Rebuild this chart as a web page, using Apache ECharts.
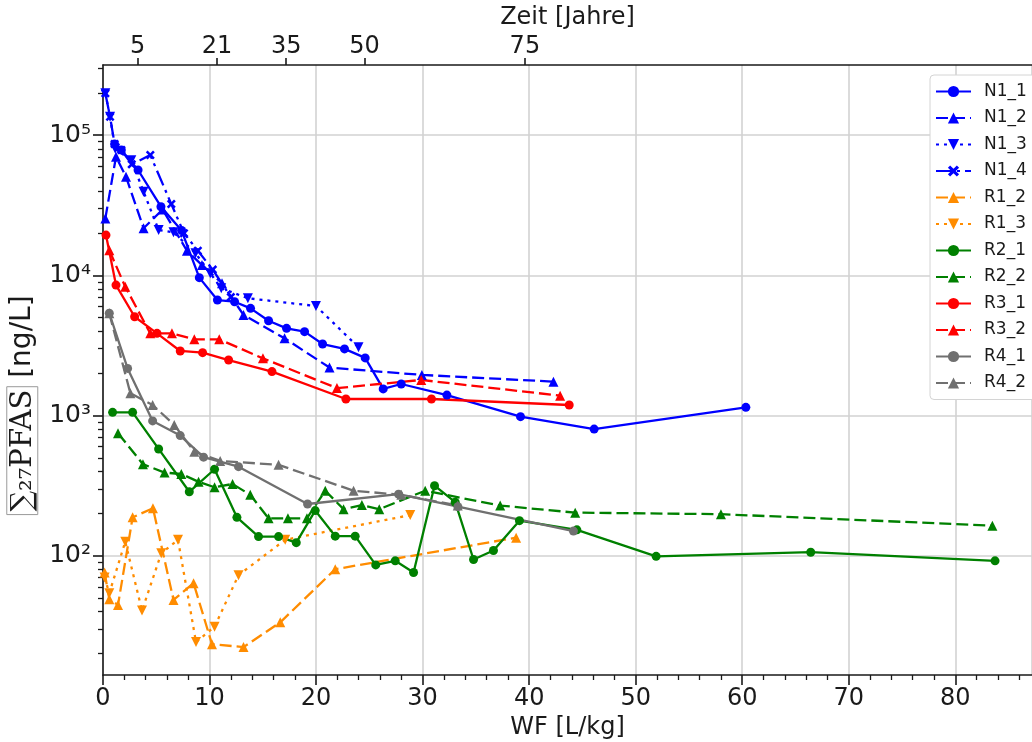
<!DOCTYPE html>
<html>
<head>
<meta charset="utf-8">
<script src="https://cdn.jsdelivr.net/npm/echarts@6/dist/echarts.min.js"></script>
<style>
  html, body { margin: 0; padding: 0; background: #fff; }
  #chart { width: 1032px; height: 742px; }
</style>
</head>
<body>
<div id="chart"></div>
<script>
// Leaching columns: water/solid ratio WF [L/kg] and summed PFAS concentration [ng/L]
const n1_1_wf   = [1.09, 1.72, 3.29, 5.44, 7.38, 9.04, 10.74, 12.35, 13.85, 15.54, 17.23, 18.92, 20.61, 22.67, 24.61, 26.30, 27.99, 32.28, 39.19, 46.10, 60.34];
const n1_1_pfas = [86500, 78400, 56500, 30900, 20900, 9640, 6670, 6490, 5820, 4750, 4190, 3970, 3240, 2990, 2580, 1550, 1680, 1400, 982, 801, 1145];

const n1_2_wf   = [0.22, 1.22, 2.16, 3.81, 5.6, 7.88, 9.29, 11.17, 13.19, 17.04, 21.26, 29.93, 42.28];
const n1_2_pfas = [25500, 70300, 50600, 21700, 29500, 15000, 11860, 8790, 5220, 3560, 2200, 1950, 1746];

const n1_3_wf   = [0.22, 0.66, 1.15, 2.66, 3.81, 5.22, 6.62, 8.68, 10.07, 11.1, 13.6, 19.99, 23.98];
const n1_3_pfas = [199000, 135500, 80000, 66400, 39500, 21100, 20300, 14400, 10360, 8090, 6870, 6050, 3070];

const n1_4_wf   = [0.22, 0.66, 1.09, 1.72, 2.7, 4.44, 6.41, 7.6, 8.9, 10.3, 12.0];
const n1_4_pfas = [199000, 135500, 86500, 78400, 62000, 72200, 32300, 20000, 15000, 11000, 7000];

const r1_2_wf   = [0.15, 0.59, 1.41, 2.78, 4.69, 6.62, 8.5, 10.23, 13.19, 16.64, 21.8, 38.78];
const r1_2_pfas = [76, 49, 44.6, 188, 218, 48.4, 63.7, 23.4, 22.3, 33.5, 80.2, 134.6];

const r1_3_wf   = [0.15, 0.59, 2.09, 3.66, 5.47, 7.04, 8.73, 10.47, 12.72, 17.1, 28.84];
const r1_3_pfas = [70, 54, 126, 40.6, 104, 130, 24.2, 31.2, 72.7, 130, 195];

const r2_1_wf   = [0.9, 2.78, 5.22, 8.1, 10.47, 12.57, 14.6, 16.48, 18.14, 19.92, 21.8, 23.67, 25.6, 27.43, 29.15, 31.12, 33.06, 34.78, 36.65, 39.09, 44.48, 51.92, 66.43, 83.73];
const r2_1_pfas = [1055, 1055, 578, 286, 414, 188, 137, 137, 124, 210, 138, 138, 86, 92, 76, 316, 241, 94, 109, 178, 153, 99, 106, 92];

const r2_2_wf   = [1.41, 3.75, 5.78, 7.35, 8.97, 10.47, 12.16, 13.82, 15.54, 17.36, 19.14, 20.86, 22.58, 24.3, 25.93, 30.24, 37.28, 44.32, 58.0, 83.48];
const r2_2_pfas = [748, 450, 392, 383, 337, 308, 325, 272, 185, 185, 185, 291, 215, 230, 215, 291, 228, 203, 198, 164];

const r3_1_wf   = [0.28, 1.22, 2.97, 5.07, 7.25, 9.35, 11.79, 15.86, 22.8, 30.83, 43.76];
const r3_1_pfas = [19400, 8530, 5070, 3860, 2890, 2810, 2490, 2060, 1313, 1313, 1190];

const r3_2_wf   = [0.59, 2.09, 4.44, 6.47, 8.57, 10.91, 15.01, 21.96, 29.87, 42.91];
const r3_2_pfas = [15100, 8300, 3860, 3860, 3500, 3500, 2560, 1570, 1795, 1387];

const r4_1_wf   = [0.59, 2.31, 4.66, 7.25, 9.44, 12.72, 19.2, 27.74, 33.31, 44.16];
const r4_1_pfas = [5370, 2170, 916, 720, 505, 432, 234, 275, 224, 150];

const r4_2_wf   = [0.59, 2.57, 4.66, 6.69, 8.57, 11.0, 16.48, 23.52, 28.0, 33.3];
const r4_2_pfas = [5370, 1443, 1190, 857, 552, 475, 445, 291, 272, 228];

// Secondary (top) axis: elapsed time in years at given WF positions
const yearTickWF     = [3.25, 10.7, 17.2, 24.55, 39.6];
const yearTickLabels = ['5', '21', '35', '50', '75'];

// Axis ranges and tick values
const wfMin = 0, wfMax = 87.2, wfStep = 10;
const pfasMin = 14.1, pfasMax = 317000;
const pfasDecades = [100, 1000, 10000, 100000];

const wfMinor = [];
for (let v = 2; v < wfMax; v += 2) if (v % 10 !== 0) wfMinor.push(v);
const pfasMinor = [];
[10, 100, 1000, 10000, 100000].forEach(d => {
  for (let k = 2; k <= 9; k++) {
    const v = d * k;
    if (v > pfasMin && v < pfasMax) pfasMinor.push(v);
  }
});

const SUP = { '0': '⁰', '1': '¹', '2': '²', '3': '³', '4': '⁴', '5': '⁵', '6': '⁶', '7': '⁷', '8': '⁸', '9': '⁹' };
const powLabel = v => '10' + String(Math.round(Math.log10(v))).split('').map(c => SUP[c]).join('');

const FONT = 'DejaVu Sans';
const INK = '#1a1a1a';

const DASH = [12, 5], DOT = [3, 5], DASHDOT = [16, 5, 3, 5];
const X_MARK = 'path://M0,2 L2,0 L5,3 L8,0 L10,2 L7,5 L10,8 L8,10 L5,7 L2,10 L0,8 L3,5 Z';

function zip(a, b) { return a.map((v, i) => [v, b[i]]); }

function line(name, wf, pfas, color, dash, symbol, rotate, size) {
  return {
    name: name,
    type: 'line',
    xAxisIndex: 0,
    yAxisIndex: 0,
    data: zip(wf, pfas),
    symbol: symbol,
    symbolRotate: rotate || 0,
    symbolSize: size || 9,
    showSymbol: true,
    itemStyle: { color: color },
    lineStyle: { color: color, width: 2.3, type: dash },
    emphasis: { disabled: true },
    z: 3
  };
}

const series = [
  line('N1_1', n1_1_wf, n1_1_pfas, '#0000ff', 'solid', 'circle'),
  line('N1_2', n1_2_wf, n1_2_pfas, '#0000ff', DASH, 'triangle', 0, 10),
  line('N1_3', n1_3_wf, n1_3_pfas, '#0000ff', DOT, 'triangle', 180, 10),
  line('N1_4', n1_4_wf, n1_4_pfas, '#0000ff', DASHDOT, X_MARK, 0, 9),
  line('R1_2', r1_2_wf, r1_2_pfas, '#ff8c00', DASH, 'triangle', 0, 10),
  line('R1_3', r1_3_wf, r1_3_pfas, '#ff8c00', DOT, 'triangle', 180, 10),
  line('R2_1', r2_1_wf, r2_1_pfas, '#008000', 'solid', 'circle'),
  line('R2_2', r2_2_wf, r2_2_pfas, '#008000', DASH, 'triangle', 0, 10),
  line('R3_1', r3_1_wf, r3_1_pfas, '#ff0000', 'solid', 'circle'),
  line('R3_2', r3_2_wf, r3_2_pfas, '#ff0000', DASH, 'triangle', 0, 10),
  line('R4_1', r4_1_wf, r4_1_pfas, '#707070', 'solid', 'circle'),
  line('R4_2', r4_2_wf, r4_2_pfas, '#707070', DASH, 'triangle', 0, 10)
];

const gridBox = { left: 103, right: 0, top: 65, bottom: 67, containLabel: false, outerBoundsMode: 'none' };

const option = {
  animation: false,
  backgroundColor: '#fff',
  textStyle: { fontFamily: FONT, color: INK },
  grid: [Object.assign({}, gridBox), Object.assign({}, gridBox)],
  legend: {
    orient: 'vertical',
    left: 930,
    top: 75,
    padding: [8, 12, 8, 5],
    itemWidth: 35,
    itemHeight: 14,
    itemGap: 9.5,
    backgroundColor: '#fff',
    borderColor: '#d4d4d4',
    borderWidth: 1,
    borderRadius: 4,
    textStyle: { fontFamily: FONT, fontSize: 17, color: INK, padding: [0, 0, 0, 8], lineHeight: 14 },
    data: series.map(s => s.name)
  },
  xAxis: [
    {
      gridIndex: 0,
      type: 'value',
      position: 'bottom',
      min: wfMin, max: wfMax, interval: wfStep,
      name: 'WF [L/kg]',
      nameLocation: 'middle',
      nameGap: 36,
      nameTextStyle: { fontFamily: FONT, fontSize: 24, color: INK },
      axisLine: { onZero: false, lineStyle: { color: INK, width: 1.6 } },
      axisTick: { show: true, length: 10, lineStyle: { color: INK, width: 1.6 } },
      axisLabel: { fontFamily: FONT, fontSize: 24, color: INK, margin: 12, showMaxLabel: false },
      splitLine: { show: true, lineStyle: { color: '#d2d2d2', width: 1.6 } }
    },
    {
      gridIndex: 0,
      type: 'value',
      position: 'top',
      min: wfMin, max: wfMax,
      name: 'Zeit [Jahre]',
      nameLocation: 'middle',
      nameGap: 31,
      nameTextStyle: { fontFamily: FONT, fontSize: 24, color: INK },
      axisLine: { onZero: false, lineStyle: { color: INK, width: 1.6 } },
      axisTick: { show: true, length: 7, customValues: yearTickWF, lineStyle: { color: INK, width: 1.6 } },
      axisLabel: {
        fontFamily: FONT, fontSize: 24, color: INK, margin: 6,
        customValues: yearTickWF,
        formatter: v => {
          const i = yearTickWF.findIndex(p => Math.abs(p - v) < 1e-6);
          return i >= 0 ? yearTickLabels[i] : '';
        }
      },
      splitLine: { show: false }
    },
    {
      gridIndex: 1,
      type: 'value',
      position: 'bottom',
      min: wfMin, max: wfMax,
      axisLine: { show: false, onZero: false },
      axisTick: { show: true, length: 5, customValues: wfMinor, lineStyle: { color: INK, width: 1.3 } },
      axisLabel: { show: false },
      splitLine: { show: false }
    }
  ],
  yAxis: [
    {
      gridIndex: 0,
      type: 'log',
      logBase: 10,
      min: pfasMin, max: pfasMax,
      name: '{box|∑₂₇PFAS}{u| [ng/L]}',
      nameLocation: 'middle',
      nameRotate: 90,
      nameGap: 60,
      nameTextStyle: {
        color: INK,
        rich: {
          box: { fontFamily: 'DejaVu Serif', fontSize: 29, color: INK, borderColor: '#9a9a9a', borderWidth: 1, padding: [2, 3, 0, 3] },
          u: { fontFamily: FONT, fontSize: 28, color: INK, padding: [0, 70, 0, 0] }
        }
      },
      axisLine: { onZero: false, lineStyle: { color: INK, width: 1.6 } },
      axisTick: { show: true, length: 10, customValues: pfasDecades, lineStyle: { color: INK, width: 1.6 } },
      axisLabel: {
        fontFamily: FONT, fontSize: 25, color: INK, margin: 12,
        customValues: pfasDecades,
        formatter: v => powLabel(v)
      },
      splitLine: { show: true, lineStyle: { color: '#d2d2d2', width: 1.6 } }
    },
    {
      gridIndex: 1,
      type: 'log',
      logBase: 10,
      min: pfasMin, max: pfasMax,
      axisLine: { show: false, onZero: false },
      axisTick: { show: true, length: 5, customValues: pfasMinor, lineStyle: { color: INK, width: 1.3 } },
      axisLabel: { show: false },
      splitLine: { show: false }
    }
  ],
  series: series
};

const chart = echarts.init(document.getElementById('chart'), null, { renderer: 'canvas' });
chart.setOption(option);
</script>
</body>
</html>
